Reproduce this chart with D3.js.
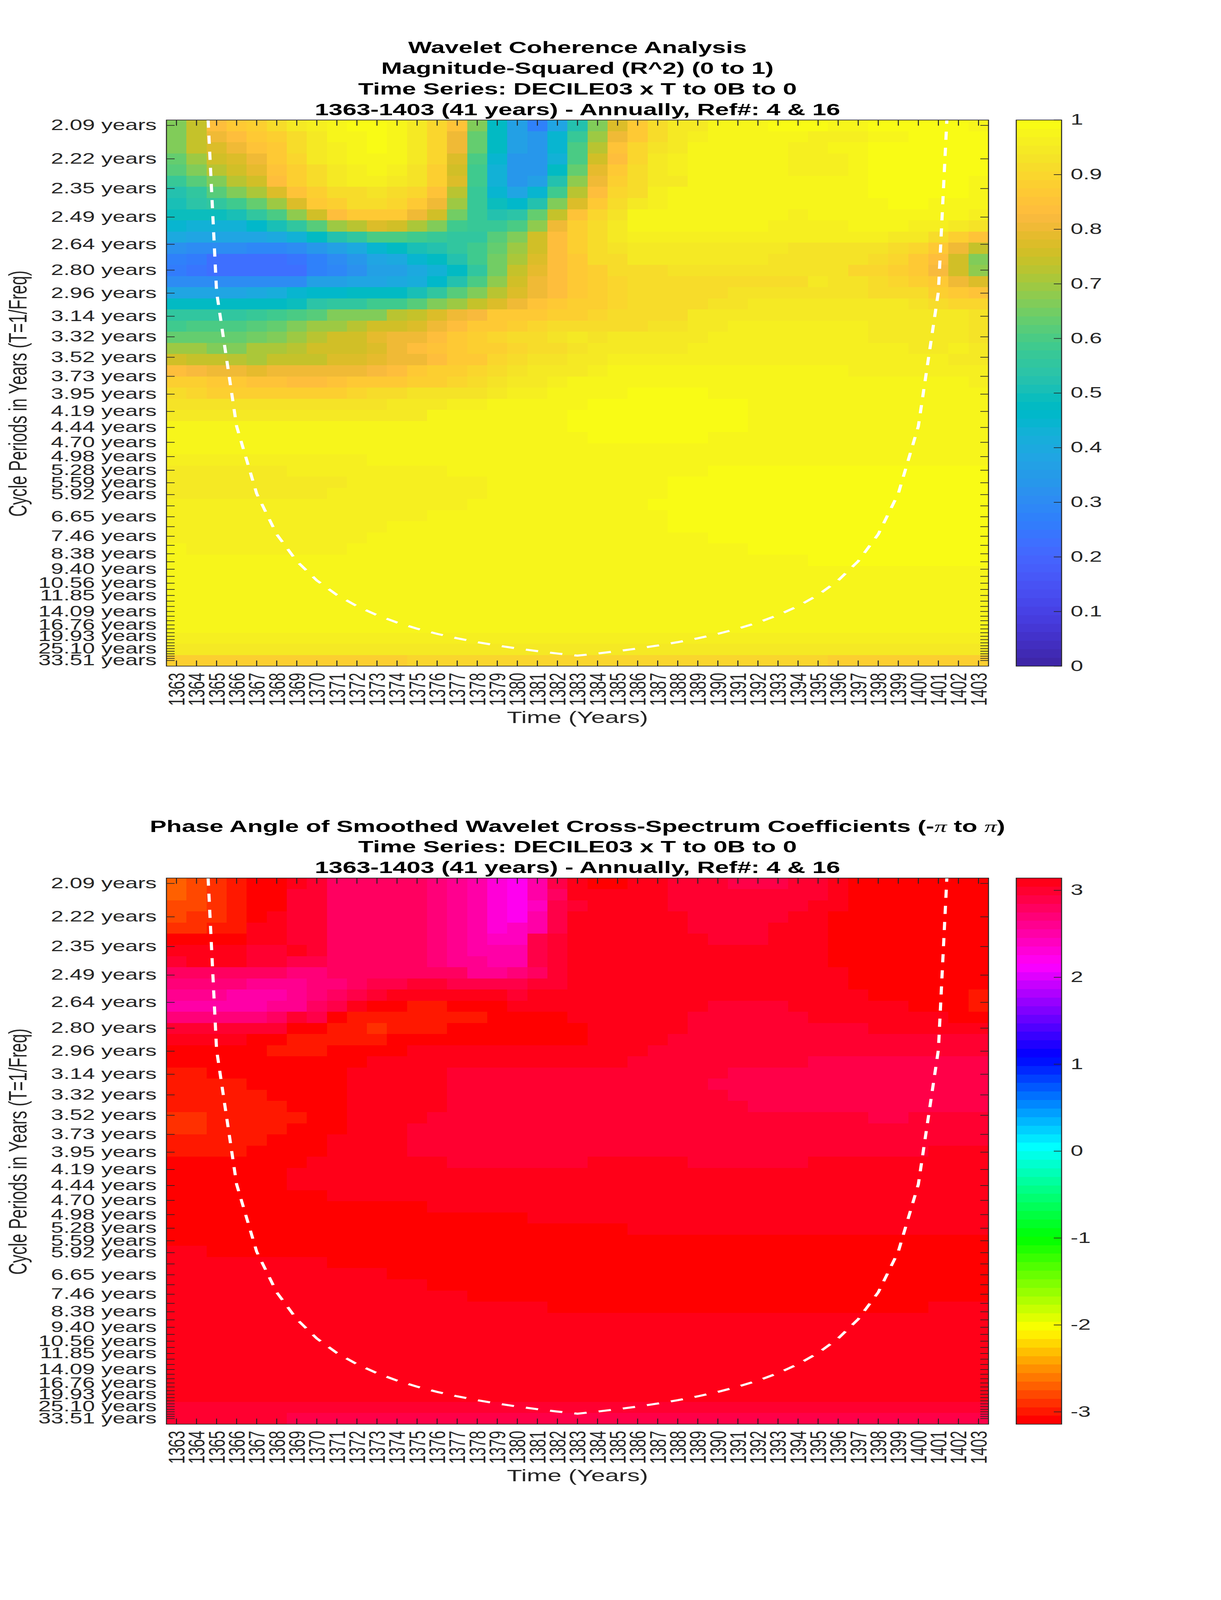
<!DOCTYPE html>
<html><head><meta charset="utf-8">
<script src="https://cdn.jsdelivr.net/npm/d3@7/dist/d3.min.js"></script>
<style>html,body{margin:0;padding:0;background:#fff;width:100%;height:100%;overflow:hidden}#chart{width:100vw;height:100vh}svg{display:block;width:100vw;height:100vh}text{font-family:"Liberation Sans",Arial,sans-serif}</style>
</head><body><div id="chart"></div>
<script>
const years=[1363,1364,1365,1366,1367,1368,1369,1370,1371,1372,1373,1374,1375,1376,1377,1378,1379,1380,1381,1382,1383,1384,1385,1386,1387,1388,1389,1390,1391,1392,1393,1394,1395,1396,1397,1398,1399,1400,1401,1402,1403];
const periodTicks=[2.09,2.22,2.35,2.49,2.64,2.80,2.96,3.14,3.32,3.52,3.73,3.95,4.19,4.44,4.70,4.98,5.28,5.59,5.92,6.27,6.65,7.04,7.46,7.91,8.38,8.88,9.40,9.96,10.56,11.18,11.85,12.56,13.30,14.09,14.93,15.82,16.76,17.75,18.81,19.93,21.11,22.37,23.70,25.10,26.60,28.18,29.85,31.63,33.51];
const labelledPeriods=[2.09,2.22,2.35,2.49,2.64,2.80,2.96,3.14,3.32,3.52,3.73,3.95,4.19,4.44,4.70,4.98,5.28,5.59,5.92,6.65,7.46,8.38,9.40,10.56,11.85,14.09,16.76,19.93,25.10,33.51];
const coiYears=[1364,1365,1366,1367,1368,1369,1370,1371,1372,1373,1374,1375,1376,1377,1378,1379,1380,1381,1382,1383,1384,1385,1386,1387,1388,1389,1390,1391,1392,1393,1394,1395,1396,1397,1398,1399,1400,1401,1402];
const coiPeriods=[1.47,2.95,4.42,5.89,7.37,8.84,10.31,11.79,13.26,14.73,16.21,17.68,19.15,20.63,22.10,23.57,25.05,26.52,28.00,29.47,28.00,26.52,25.05,23.57,22.10,20.63,19.15,17.68,16.21,14.73,13.26,11.79,10.31,8.84,7.37,5.89,4.42,2.95,1.47];
const coherenceTicks=[0,0.1,0.2,0.3,0.4,0.5,0.6,0.7,0.8,0.9,1];
const phaseTicks=[-3,-2,-1,0,1,2,3];
const parula=[[.2422,.1504,.6603],[.2504,.1650,.7076],[.2578,.1818,.7511],[.2647,.1978,.7952],[.2706,.2147,.8364],[.2751,.2342,.8710],[.2783,.2559,.8991],[.2803,.2782,.9221],[.2813,.3006,.9414],[.2810,.3228,.9579],[.2795,.3447,.9717],[.2760,.3667,.9829],[.2699,.3892,.9906],[.2602,.4123,.9952],[.2440,.4358,.9988],[.2206,.4603,.9973],[.1963,.4847,.9892],[.1834,.5074,.9798],[.1786,.5289,.9682],[.1764,.5499,.9520],[.1687,.5703,.9359],[.1540,.5902,.9218],[.1460,.6091,.9079],[.1380,.6276,.8973],[.1248,.6459,.8883],[.1113,.6635,.8763],[.0952,.6798,.8598],[.0689,.6948,.8394],[.0297,.7082,.8163],[.0036,.7197,.7917],[.0067,.7312,.7660],[.0433,.7411,.7394],[.0964,.7500,.7120],[.1408,.7584,.6842],[.1717,.7670,.6554],[.1938,.7758,.6251],[.2161,.7843,.5923],[.2470,.7918,.5567],[.2906,.7973,.5188],[.3406,.8008,.4789],[.3909,.8029,.4354],[.4456,.8024,.3909],[.5044,.7993,.3480],[.5616,.7942,.3045],[.6174,.7876,.2612],[.6720,.7793,.2227],[.7242,.7698,.1910],[.7738,.7598,.1646],[.8203,.7498,.1535],[.8634,.7406,.1596],[.9035,.7330,.1774],[.9393,.7288,.2100],[.9728,.7298,.2394],[.9956,.7434,.2371],[.9970,.7659,.2199],[.9952,.7893,.2028],[.9892,.8136,.1885],[.9786,.8386,.1766],[.9676,.8639,.1643],[.9610,.8890,.1537],[.9597,.9135,.1423],[.9628,.9373,.1265],[.9691,.9606,.1064],[.9769,.9839,.0805]];
const coherence=[
[.67,.74,.84,.86,.89,.91,.94,.96,.98,.99,.99,.97,.95,.90,.85,.67,.48,.36,.28,.38,.52,.67,.77,.86,.91,.94,.95,.97,.98,.98,.99,.99,.99,.98,.98,.99,.99,.99,.99,.99,.98],
[.67,.74,.80,.83,.86,.88,.92,.94,.97,.98,.99,.97,.94,.90,.81,.63,.48,.37,.33,.44,.57,.70,.80,.87,.92,.94,.96,.97,.97,.97,.97,.97,.96,.96,.96,.97,.98,.99,.99,.99,.99],
[.67,.74,.78,.80,.85,.87,.91,.94,.96,.98,.99,.97,.94,.90,.80,.64,.48,.37,.33,.44,.60,.72,.85,.90,.93,.95,.97,.97,.97,.97,.97,.96,.96,.97,.97,.99,.99,.99,.99,.99,.99],
[.64,.70,.75,.78,.81,.86,.90,.94,.96,.98,.98,.97,.94,.90,.78,.60,.45,.33,.34,.43,.60,.75,.84,.90,.94,.96,.97,.97,.97,.97,.97,.96,.96,.96,.97,.99,.99,.99,.99,.99,.99],
[.62,.66,.72,.76,.79,.85,.88,.91,.94,.96,.97,.96,.93,.88,.76,.58,.43,.33,.33,.48,.64,.79,.87,.91,.94,.96,.97,.97,.97,.97,.97,.96,.96,.96,.97,.99,.99,.99,.99,.99,.99],
[.57,.62,.67,.73,.76,.83,.88,.92,.94,.96,.96,.95,.93,.88,.77,.58,.43,.33,.37,.52,.68,.80,.88,.92,.94,.95,.97,.97,.97,.97,.97,.97,.97,.97,.97,.99,.99,.99,.99,.99,.97],
[.53,.56,.61,.66,.71,.77,.85,.88,.91,.92,.93,.92,.90,.85,.72,.57,.44,.38,.44,.59,.73,.84,.90,.92,.96,.97,.97,.97,.97,.97,.97,.97,.97,.97,.97,.99,.99,.99,.99,.99,.97],
[.51,.54,.56,.59,.63,.69,.78,.86,.89,.91,.91,.90,.86,.81,.69,.57,.49,.46,.52,.66,.77,.87,.92,.94,.96,.97,.97,.97,.97,.97,.97,.97,.97,.97,.97,.97,.99,.99,.97,.97,.97],
[.49,.49,.49,.51,.55,.60,.68,.76,.83,.86,.87,.86,.81,.75,.65,.57,.52,.54,.63,.74,.85,.90,.93,.97,.98,.98,.98,.98,.97,.97,.97,.96,.97,.97,.97,.97,.97,.97,.97,.97,.96],
[.45,.43,.43,.43,.46,.50,.55,.62,.70,.73,.77,.76,.71,.66,.59,.57,.57,.60,.68,.80,.88,.91,.94,.97,.98,.98,.98,.98,.97,.97,.96,.96,.96,.96,.97,.97,.97,.96,.96,.95,.93],
[.40,.38,.38,.38,.38,.40,.43,.48,.52,.56,.60,.60,.59,.57,.56,.56,.62,.66,.75,.83,.88,.91,.94,.96,.96,.96,.96,.96,.96,.96,.96,.96,.96,.96,.96,.96,.95,.94,.92,.89,.85],
[.32,.31,.31,.30,.29,.29,.30,.33,.37,.40,.44,.47,.50,.52,.55,.58,.63,.70,.76,.83,.88,.91,.93,.95,.95,.95,.95,.95,.95,.95,.95,.93,.93,.93,.93,.93,.91,.90,.87,.81,.74],
[.27,.25,.23,.22,.22,.23,.24,.27,.31,.33,.38,.40,.44,.48,.52,.58,.65,.71,.77,.83,.87,.91,.92,.94,.94,.94,.94,.94,.94,.94,.93,.93,.93,.93,.93,.91,.90,.87,.83,.75,.67],
[.26,.24,.22,.22,.22,.22,.23,.27,.29,.32,.36,.37,.40,.43,.48,.56,.65,.74,.79,.84,.87,.89,.91,.92,.92,.93,.93,.93,.93,.93,.93,.93,.93,.93,.90,.90,.88,.86,.82,.75,.68],
[.31,.31,.31,.31,.31,.31,.30,.36,.37,.38,.39,.40,.41,.46,.52,.60,.68,.75,.81,.84,.87,.88,.90,.92,.92,.91,.92,.92,.92,.92,.92,.92,.94,.93,.93,.91,.90,.88,.86,.81,.77],
[.38,.38,.38,.39,.40,.41,.44,.46,.46,.47,.48,.48,.50,.56,.61,.67,.72,.77,.80,.84,.87,.88,.90,.91,.91,.92,.92,.92,.93,.93,.93,.93,.93,.93,.93,.92,.92,.92,.88,.86,.85],
[.48,.48,.48,.48,.48,.48,.49,.54,.55,.56,.58,.59,.61,.66,.69,.74,.77,.81,.85,.86,.88,.88,.90,.91,.91,.92,.92,.93,.93,.94,.94,.94,.94,.94,.94,.94,.94,.93,.92,.90,.90],
[.55,.55,.55,.56,.57,.59,.60,.62,.66,.66,.67,.72,.74,.77,.81,.82,.86,.86,.87,.88,.89,.90,.91,.91,.91,.92,.94,.94,.94,.94,.95,.95,.95,.95,.95,.94,.94,.94,.94,.94,.93],
[.59,.60,.60,.60,.62,.63,.66,.69,.70,.72,.75,.76,.77,.81,.83,.86,.87,.88,.90,.91,.92,.92,.92,.92,.93,.93,.94,.95,.96,.96,.96,.96,.96,.96,.96,.95,.95,.95,.95,.95,.93],
[.63,.64,.64,.64,.65,.67,.69,.72,.75,.76,.79,.80,.81,.84,.86,.88,.90,.91,.92,.93,.94,.93,.94,.94,.94,.95,.95,.96,.96,.96,.96,.96,.96,.96,.96,.95,.95,.95,.95,.95,.93],
[.70,.69,.67,.67,.71,.71,.73,.75,.76,.76,.78,.81,.83,.85,.87,.88,.89,.90,.91,.92,.93,.94,.94,.94,.95,.95,.96,.96,.96,.96,.96,.96,.96,.96,.96,.96,.96,.95,.95,.96,.95],
[.76,.74,.74,.73,.71,.74,.74,.74,.77,.77,.79,.80,.81,.83,.87,.87,.90,.92,.93,.93,.94,.94,.96,.96,.96,.96,.96,.96,.96,.96,.96,.96,.96,.96,.96,.96,.96,.96,.96,.95,.95],
[.84,.82,.81,.80,.79,.80,.80,.80,.80,.81,.82,.84,.86,.88,.88,.90,.92,.93,.94,.95,.95,.96,.97,.97,.97,.97,.97,.97,.97,.97,.97,.97,.97,.97,.96,.96,.96,.96,.96,.96,.96],
[.88,.88,.86,.86,.85,.85,.84,.84,.85,.86,.86,.87,.88,.89,.90,.91,.93,.94,.95,.96,.97,.97,.97,.97,.97,.97,.97,.97,.97,.97,.97,.97,.97,.97,.97,.97,.97,.97,.97,.97,.96],
[.92,.90,.89,.89,.89,.89,.89,.89,.89,.90,.91,.92,.93,.93,.93,.93,.95,.96,.96,.97,.97,.97,.97,.99,.99,.99,.99,.97,.97,.97,.97,.97,.97,.97,.97,.97,.97,.97,.97,.97,.97],
[.93,.93,.93,.93,.93,.93,.93,.93,.93,.93,.93,.95,.95,.95,.96,.96,.97,.97,.97,.97,.97,.99,.99,.99,.99,.99,.99,.99,.99,.97,.97,.97,.97,.97,.97,.97,.97,.97,.97,.97,.97],
[.95,.95,.95,.95,.95,.95,.95,.95,.95,.95,.95,.95,.95,.97,.97,.97,.97,.97,.97,.97,.99,.99,.99,.99,.99,.99,.99,.99,.99,.97,.97,.97,.97,.97,.97,.97,.97,.97,.97,.97,.97],
[.97,.97,.97,.97,.97,.97,.97,.97,.97,.97,.97,.97,.97,.97,.97,.97,.97,.97,.97,.97,.99,.99,.99,.99,.99,.99,.99,.99,.99,.97,.97,.97,.97,.97,.97,.97,.97,.97,.97,.97,.97],
[.97,.97,.97,.97,.97,.97,.97,.97,.97,.97,.97,.97,.97,.97,.97,.97,.97,.97,.97,.97,.97,.99,.99,.99,.99,.99,.99,.97,.97,.97,.97,.97,.97,.97,.97,.97,.97,.97,.97,.97,.97],
[.97,.97,.97,.97,.97,.97,.97,.97,.97,.97,.97,.97,.97,.97,.97,.97,.97,.97,.97,.97,.97,.97,.97,.97,.97,.97,.97,.97,.97,.97,.97,.97,.97,.97,.97,.97,.97,.97,.97,.97,.97],
[.96,.96,.96,.96,.96,.96,.96,.96,.96,.96,.97,.97,.97,.97,.97,.97,.97,.97,.97,.97,.97,.97,.97,.97,.97,.97,.97,.97,.97,.97,.97,.97,.97,.97,.97,.97,.97,.97,.97,.97,.97],
[.95,.95,.95,.95,.95,.95,.96,.96,.96,.96,.96,.96,.96,.96,.97,.97,.97,.97,.97,.97,.97,.97,.97,.97,.97,.97,.97,.99,.99,.99,.99,.99,.99,.99,.99,.99,.99,.99,.99,.99,.99],
[.95,.95,.95,.95,.95,.95,.95,.95,.95,.96,.96,.96,.96,.96,.96,.96,.97,.97,.97,.97,.97,.97,.97,.97,.97,.99,.99,.99,.99,.99,.99,.99,.99,.99,.99,.99,.99,.99,.99,.99,.99],
[.95,.95,.95,.95,.95,.95,.95,.95,.96,.96,.96,.96,.96,.96,.96,.96,.97,.97,.97,.97,.97,.97,.97,.97,.97,.99,.99,.99,.99,.99,.99,.99,.99,.99,.99,.99,.99,.99,.99,.99,.99],
[.96,.96,.96,.96,.96,.96,.96,.96,.96,.96,.96,.96,.96,.96,.96,.97,.97,.97,.97,.97,.97,.97,.97,.97,.99,.99,.99,.99,.99,.99,.99,.99,.99,.99,.99,.99,.99,.99,.99,.99,.99],
[.96,.96,.96,.96,.96,.96,.96,.96,.96,.96,.96,.96,.96,.97,.97,.97,.97,.97,.97,.97,.97,.97,.97,.97,.97,.99,.99,.99,.99,.99,.99,.99,.99,.99,.99,.99,.99,.99,.99,.99,.99],
[.96,.96,.96,.96,.96,.96,.96,.96,.96,.96,.96,.97,.97,.97,.97,.97,.97,.97,.97,.97,.97,.97,.97,.97,.97,.99,.99,.99,.99,.99,.99,.99,.99,.99,.99,.99,.99,.99,.99,.99,.99],
[.96,.96,.96,.96,.96,.96,.96,.96,.96,.96,.97,.97,.97,.97,.97,.97,.97,.97,.97,.97,.97,.97,.97,.97,.97,.97,.97,.99,.99,.99,.99,.99,.99,.99,.99,.99,.99,.99,.99,.99,.99],
[.97,.96,.96,.96,.96,.96,.96,.96,.96,.97,.97,.97,.97,.97,.97,.97,.97,.97,.97,.97,.97,.97,.97,.97,.97,.97,.97,.97,.97,.99,.99,.99,.99,.99,.99,.99,.99,.99,.99,.99,.99],
[.97,.97,.97,.97,.97,.97,.97,.97,.97,.97,.97,.97,.97,.97,.97,.97,.97,.97,.97,.97,.97,.97,.97,.97,.97,.97,.97,.97,.97,.97,.97,.97,.99,.99,.99,.99,.99,.99,.99,.99,.99],
[.97,.97,.97,.97,.97,.97,.97,.97,.97,.97,.97,.97,.97,.97,.97,.97,.97,.97,.97,.97,.97,.97,.97,.97,.97,.97,.97,.97,.97,.97,.97,.97,.97,.97,.97,.97,.97,.97,.97,.97,.97],
[.97,.97,.97,.97,.97,.97,.97,.97,.97,.97,.97,.97,.97,.97,.97,.97,.97,.97,.97,.97,.97,.97,.97,.97,.97,.97,.97,.97,.97,.97,.97,.97,.97,.97,.97,.97,.97,.97,.97,.97,.97],
[.97,.97,.97,.97,.97,.97,.97,.97,.97,.97,.97,.97,.97,.97,.97,.97,.97,.97,.97,.97,.97,.97,.97,.97,.97,.97,.97,.97,.97,.97,.97,.97,.97,.97,.97,.97,.97,.97,.97,.97,.97],
[.97,.97,.97,.97,.97,.97,.97,.97,.97,.97,.97,.97,.97,.97,.97,.97,.97,.97,.97,.97,.97,.97,.97,.97,.97,.97,.97,.97,.97,.97,.97,.97,.97,.97,.97,.97,.97,.97,.97,.97,.97],
[.97,.97,.97,.97,.97,.97,.97,.97,.97,.97,.97,.97,.97,.97,.97,.97,.97,.97,.97,.97,.97,.97,.97,.97,.97,.97,.97,.97,.97,.97,.97,.97,.97,.97,.97,.97,.97,.97,.97,.97,.97],
[.97,.97,.97,.97,.97,.97,.97,.97,.97,.97,.97,.97,.97,.97,.97,.97,.97,.97,.97,.97,.97,.97,.97,.97,.97,.97,.97,.97,.97,.97,.97,.97,.97,.97,.97,.97,.97,.97,.97,.97,.97],
[.96,.96,.96,.96,.96,.96,.96,.96,.96,.96,.96,.96,.96,.96,.96,.96,.96,.96,.96,.96,.96,.96,.96,.96,.96,.96,.96,.96,.96,.96,.96,.96,.96,.96,.96,.96,.96,.96,.96,.96,.96],
[.94,.94,.94,.94,.94,.94,.94,.94,.94,.94,.95,.95,.95,.95,.95,.95,.95,.95,.95,.95,.95,.95,.95,.95,.95,.95,.95,.95,.95,.95,.95,.95,.95,.95,.94,.94,.94,.94,.94,.94,.94],
[.89,.89,.89,.89,.89,.89,.89,.89,.89,.89,.89,.89,.90,.90,.90,.90,.90,.90,.90,.90,.90,.90,.90,.90,.90,.90,.90,.90,.90,.90,.90,.90,.90,.89,.89,.89,.89,.89,.89,.89,.89]
];
const phase=[
[-2.70,-2.80,-2.90,-2.99,-3.09,-3.09,3.09,2.99,2.80,2.80,2.80,2.80,2.80,2.70,2.60,2.50,2.31,2.21,2.50,2.90,3.09,-3.09,-3.09,3.09,3.09,2.99,2.99,2.99,2.90,2.90,2.90,2.99,2.99,3.09,-3.09,-3.09,-3.09,-3.09,-3.09,-3.09,-3.09],
[-2.70,-2.80,-2.90,-2.99,-3.09,-3.09,2.99,2.99,2.80,2.80,2.80,2.80,2.80,2.70,2.60,2.50,2.31,2.21,2.50,2.80,3.09,3.09,3.09,3.09,3.09,2.99,2.99,2.99,2.99,2.99,2.99,2.99,2.99,3.09,-3.09,-3.09,-3.09,-3.09,-3.09,-3.09,-3.09],
[-2.80,-2.80,-2.90,-2.99,-3.09,-3.09,2.99,2.99,2.80,2.80,2.80,2.80,2.80,2.70,2.60,2.50,2.31,2.21,2.41,2.90,2.99,3.09,3.09,3.09,3.09,2.99,2.99,2.99,2.99,2.99,2.99,2.99,3.09,3.09,-3.09,-3.09,-3.09,-3.09,-3.09,-3.09,-3.09],
[-2.80,-2.90,-2.90,-2.99,-3.09,3.09,2.99,2.99,2.80,2.80,2.80,2.80,2.80,2.70,2.60,2.50,2.31,2.21,2.50,2.90,3.09,3.09,3.09,3.09,3.09,3.09,2.99,2.99,2.99,2.99,2.99,3.09,3.09,-3.09,-3.09,-3.09,-3.09,-3.09,-3.09,-3.09,-3.09],
[-2.90,-2.90,-2.99,-2.99,3.09,3.09,2.99,2.99,2.80,2.80,2.80,2.80,2.80,2.70,2.60,2.50,2.31,2.41,2.50,2.90,3.09,3.09,3.09,3.09,3.09,3.09,2.99,2.99,2.99,2.99,3.09,3.09,3.09,-3.09,-3.09,-3.09,-3.09,-3.09,-3.09,-3.09,-3.09],
[-3.09,-3.09,-3.09,-3.09,3.09,3.09,2.99,2.99,2.80,2.80,2.80,2.80,2.80,2.70,2.60,2.50,2.41,2.41,2.90,2.99,3.09,3.09,3.09,3.09,3.09,3.09,3.09,2.99,2.99,2.99,3.09,3.09,3.09,-3.09,-3.09,-3.09,-3.09,-3.09,-3.09,-3.09,-3.09],
[3.09,3.09,3.09,3.09,2.99,2.99,3.09,2.99,2.80,2.80,2.80,2.80,2.80,2.70,2.60,2.50,2.50,2.50,2.90,2.99,3.09,3.09,3.09,3.09,3.09,3.09,3.09,3.09,3.09,3.09,3.09,3.09,3.09,-3.09,-3.09,-3.09,-3.09,-3.09,-3.09,-3.09,-3.09],
[2.99,3.09,3.09,3.09,2.99,2.99,2.90,2.90,2.80,2.80,2.80,2.80,2.80,2.70,2.60,2.60,2.50,2.50,2.90,2.99,3.09,3.09,3.09,3.09,3.09,3.09,3.09,3.09,3.09,3.09,3.09,3.09,3.09,-3.09,-3.09,-3.09,-3.09,-3.09,-3.09,-3.09,-3.09],
[2.80,2.80,2.80,2.80,2.80,2.80,2.70,2.70,2.80,2.80,2.80,2.80,2.80,2.80,2.80,2.60,2.60,2.70,2.80,2.99,3.09,3.09,3.09,3.09,3.09,3.09,3.09,3.09,3.09,3.09,3.09,3.09,3.09,3.09,-3.09,-3.09,-3.09,-3.09,-3.09,-3.09,-3.09],
[2.70,2.70,2.70,2.70,2.60,2.60,2.60,2.70,2.70,2.80,2.90,2.90,2.99,2.99,2.90,2.90,2.90,2.90,2.99,2.99,3.09,3.09,3.09,3.09,3.09,3.09,3.09,3.09,3.09,3.09,3.09,3.09,3.09,3.09,-3.09,-3.09,-3.09,-3.09,-3.09,-3.09,-3.09],
[2.60,2.60,2.60,2.50,2.50,2.50,2.60,2.70,2.80,2.90,2.99,3.09,3.09,3.09,3.09,3.09,3.09,2.99,3.09,3.09,3.09,3.09,3.09,3.09,3.09,3.09,3.09,3.09,3.09,3.09,3.09,3.09,3.09,3.09,3.09,-3.09,-3.09,-3.09,-3.09,-3.09,-2.99],
[2.50,2.50,2.50,2.50,2.50,2.60,2.60,2.80,2.90,3.09,-3.09,-3.09,-2.99,-2.99,-3.09,-3.09,-3.09,3.09,3.09,3.09,3.09,3.09,3.09,3.09,3.09,3.09,3.09,2.99,2.99,2.99,2.99,3.09,3.09,3.09,3.09,3.09,3.09,-3.09,-3.09,-3.09,-2.99],
[2.70,2.70,2.70,2.70,2.70,2.80,2.99,2.90,-3.09,-2.99,-2.99,-2.99,-2.99,-2.99,-2.99,-2.99,-3.09,-3.09,-3.09,-3.09,3.09,3.09,3.09,3.09,3.09,3.09,2.99,2.99,2.99,2.99,2.99,2.99,3.09,3.09,3.09,3.09,3.09,3.09,3.09,-3.09,-3.09],
[2.99,2.99,2.99,2.99,2.99,2.99,-3.09,-3.09,-2.99,-2.99,-2.90,-2.99,-2.99,-2.99,-3.09,-3.09,-3.09,-3.09,-3.09,-3.09,-3.09,3.09,3.09,3.09,3.09,3.09,2.99,2.99,2.99,2.99,2.99,2.99,2.99,2.99,2.99,3.09,3.09,3.09,3.09,3.09,3.09],
[3.09,3.09,3.09,3.09,-3.09,-3.09,-2.99,-2.99,-2.99,-2.99,-2.99,-3.09,-3.09,-3.09,-3.09,-3.09,-3.09,-3.09,-3.09,-3.09,-3.09,3.09,3.09,3.09,3.09,2.99,2.99,2.99,2.99,2.99,2.99,2.99,2.99,2.99,2.99,2.99,2.99,2.99,2.99,2.99,2.99],
[-3.09,-3.09,-3.09,-3.09,-3.09,-2.99,-2.99,-2.99,-3.09,-3.09,-3.09,-3.09,3.09,3.09,3.09,3.09,3.09,3.09,3.09,3.09,3.09,3.09,3.09,3.09,2.99,2.99,2.99,2.99,2.99,2.99,2.99,2.99,2.99,2.99,2.99,2.99,2.99,2.99,2.99,2.99,2.99],
[-3.09,-3.09,-3.09,-3.09,-3.09,-3.09,-3.09,-3.09,-3.09,-3.09,3.09,3.09,3.09,3.09,3.09,3.09,3.09,3.09,3.09,3.09,3.09,3.09,3.09,2.99,2.99,2.99,2.99,2.99,2.99,2.99,2.99,2.99,2.90,2.90,2.90,2.90,2.90,2.90,2.90,2.90,2.90],
[-2.99,-2.99,-3.09,-3.09,-3.09,-3.09,-3.09,-3.09,-3.09,3.09,3.09,3.09,3.09,3.09,2.99,2.99,2.99,2.99,2.99,2.99,2.99,2.99,2.99,2.99,2.99,2.99,2.99,2.99,2.90,2.90,2.90,2.90,2.90,2.90,2.90,2.90,2.90,2.90,2.90,2.90,2.90],
[-2.99,-2.99,-2.99,-2.99,-3.09,-3.09,-3.09,-3.09,-3.09,3.09,3.09,3.09,3.09,3.09,2.99,2.99,2.99,2.99,2.99,2.99,2.99,2.99,2.99,2.99,2.99,2.99,2.99,2.90,2.90,2.90,2.90,2.90,2.90,2.90,2.90,2.90,2.90,2.90,2.90,2.90,2.90],
[-2.99,-2.99,-2.99,-2.99,-2.99,-3.09,-3.09,-3.09,-3.09,3.09,3.09,3.09,3.09,3.09,2.99,2.99,2.99,2.99,2.99,2.99,2.99,2.99,2.99,2.99,2.99,2.99,2.99,2.99,2.90,2.90,2.90,2.90,2.90,2.90,2.90,2.90,2.90,2.90,2.90,2.90,2.90],
[-2.99,-2.99,-2.99,-2.99,-2.99,-2.99,-3.09,-3.09,-3.09,3.09,3.09,3.09,3.09,3.09,2.99,2.99,2.99,2.99,2.99,2.99,2.99,2.99,2.99,2.99,2.99,2.99,2.99,2.99,2.99,2.90,2.90,2.90,2.90,2.90,2.90,2.90,2.90,2.90,2.90,2.90,2.90],
[-2.90,-2.90,-2.99,-2.99,-2.99,-2.99,-2.99,-3.09,-3.09,3.09,3.09,3.09,3.09,2.99,2.99,2.99,2.99,2.99,2.99,2.99,2.99,2.99,2.99,2.99,2.99,2.99,2.99,2.99,2.99,2.99,2.99,2.99,2.99,2.99,2.99,2.90,2.90,2.99,2.99,2.99,2.99],
[-2.90,-2.90,-2.99,-2.99,-2.99,-2.99,-3.09,-3.09,-3.09,3.09,3.09,3.09,2.99,2.99,2.99,2.99,2.99,2.99,2.99,2.99,2.99,2.99,2.99,2.99,2.99,2.99,2.99,2.99,2.99,2.99,2.99,2.99,2.99,2.99,2.99,2.99,2.99,2.99,2.99,2.99,2.99],
[-2.99,-2.99,-2.99,-2.99,-2.99,-3.09,-3.09,-3.09,3.09,3.09,3.09,3.09,2.99,2.99,2.99,2.99,2.99,2.99,2.99,2.99,2.99,2.99,2.99,2.99,2.99,2.99,2.99,2.99,2.99,2.99,2.99,2.99,2.99,2.99,2.99,2.99,2.99,2.99,2.99,2.99,2.99],
[-2.99,-2.99,-2.99,-2.99,-3.09,-3.09,-3.09,-3.09,3.09,3.09,3.09,3.09,2.99,2.99,2.99,2.99,2.99,2.99,2.99,2.99,2.99,2.99,2.99,2.99,2.99,2.99,2.99,2.99,2.99,2.99,2.99,2.99,2.99,2.99,2.99,2.99,2.99,2.99,3.09,3.09,3.09],
[-3.09,-3.09,-3.09,-3.09,-3.09,-3.09,-3.09,3.09,3.09,3.09,3.09,3.09,3.09,3.09,2.99,2.99,2.99,2.99,2.99,2.99,2.99,3.09,3.09,3.09,3.09,3.09,2.99,2.99,2.99,2.99,2.99,2.99,3.09,3.09,3.09,3.09,3.09,3.09,3.09,3.09,3.09],
[-3.09,-3.09,-3.09,-3.09,-3.09,-3.09,3.09,3.09,3.09,3.09,3.09,3.09,3.09,3.09,3.09,3.09,3.09,3.09,3.09,3.09,3.09,3.09,3.09,3.09,3.09,3.09,3.09,3.09,3.09,3.09,3.09,3.09,3.09,3.09,3.09,3.09,3.09,3.09,3.09,3.09,3.09],
[-3.09,-3.09,-3.09,-3.09,-3.09,-3.09,3.09,3.09,3.09,3.09,3.09,3.09,3.09,3.09,3.09,3.09,3.09,3.09,3.09,3.09,3.09,3.09,3.09,3.09,3.09,3.09,3.09,3.09,3.09,3.09,3.09,3.09,3.09,3.09,3.09,3.09,3.09,3.09,3.09,3.09,3.09],
[-3.09,-3.09,-3.09,-3.09,-3.09,-3.09,-3.09,-3.09,3.09,3.09,3.09,3.09,3.09,3.09,3.09,3.09,3.09,3.09,3.09,3.09,3.09,3.09,3.09,3.09,3.09,3.09,3.09,3.09,3.09,3.09,3.09,3.09,3.09,3.09,3.09,3.09,3.09,3.09,3.09,3.09,3.09],
[-3.09,-3.09,-3.09,-3.09,-3.09,-3.09,-3.09,-3.09,-3.09,-3.09,-3.09,-3.09,-3.09,3.09,3.09,3.09,3.09,3.09,3.09,3.09,3.09,3.09,3.09,3.09,3.09,3.09,3.09,3.09,3.09,3.09,3.09,3.09,3.09,3.09,3.09,3.09,3.09,3.09,3.09,3.09,3.09],
[-3.09,-3.09,-3.09,-3.09,-3.09,-3.09,-3.09,-3.09,-3.09,-3.09,-3.09,-3.09,-3.09,-3.09,-3.09,-3.09,-3.09,-3.09,3.09,3.09,3.09,3.09,3.09,3.09,3.09,3.09,3.09,3.09,3.09,3.09,3.09,3.09,3.09,3.09,3.09,3.09,3.09,3.09,3.09,3.09,3.09],
[-3.09,-3.09,-3.09,-3.09,-3.09,-3.09,-3.09,-3.09,-3.09,-3.09,-3.09,-3.09,-3.09,-3.09,-3.09,-3.09,-3.09,-3.09,-3.09,-3.09,-3.09,-3.09,-3.09,3.09,3.09,3.09,3.09,3.09,3.09,3.09,3.09,3.09,3.09,3.09,3.09,3.09,3.09,3.09,3.09,3.09,3.09],
[-3.09,-3.09,-3.09,-3.09,-3.09,-3.09,-3.09,-3.09,-3.09,-3.09,-3.09,-3.09,-3.09,-3.09,-3.09,-3.09,-3.09,-3.09,-3.09,-3.09,-3.09,-3.09,-3.09,-3.09,-3.09,-3.09,-3.09,-3.09,-3.09,-3.09,-3.09,-3.09,-3.09,-3.09,-3.09,-3.09,-3.09,-3.09,-3.09,-3.09,-3.09],
[3.09,3.09,-3.09,-3.09,-3.09,-3.09,-3.09,-3.09,-3.09,-3.09,-3.09,-3.09,-3.09,-3.09,-3.09,-3.09,-3.09,-3.09,-3.09,-3.09,-3.09,-3.09,-3.09,-3.09,-3.09,-3.09,-3.09,-3.09,-3.09,-3.09,-3.09,-3.09,-3.09,-3.09,-3.09,-3.09,-3.09,-3.09,-3.09,-3.09,-3.09],
[3.09,3.09,3.09,3.09,3.09,3.09,3.09,3.09,-3.09,-3.09,-3.09,-3.09,-3.09,-3.09,-3.09,-3.09,-3.09,-3.09,-3.09,-3.09,-3.09,-3.09,-3.09,-3.09,-3.09,-3.09,-3.09,-3.09,-3.09,-3.09,-3.09,-3.09,-3.09,-3.09,-3.09,-3.09,-3.09,-3.09,-3.09,-3.09,-3.09],
[3.09,3.09,3.09,3.09,3.09,3.09,3.09,3.09,3.09,3.09,3.09,-3.09,-3.09,-3.09,-3.09,-3.09,-3.09,-3.09,-3.09,-3.09,-3.09,-3.09,-3.09,-3.09,-3.09,-3.09,-3.09,-3.09,-3.09,-3.09,-3.09,-3.09,-3.09,-3.09,-3.09,-3.09,-3.09,-3.09,-3.09,-3.09,-3.09],
[3.09,3.09,3.09,3.09,3.09,3.09,3.09,3.09,3.09,3.09,3.09,3.09,3.09,-3.09,-3.09,-3.09,-3.09,-3.09,-3.09,-3.09,-3.09,-3.09,-3.09,-3.09,-3.09,-3.09,-3.09,-3.09,-3.09,-3.09,-3.09,-3.09,-3.09,-3.09,-3.09,-3.09,-3.09,-3.09,-3.09,-3.09,-3.09],
[3.09,3.09,3.09,3.09,3.09,3.09,3.09,3.09,3.09,3.09,3.09,3.09,3.09,3.09,3.09,-3.09,-3.09,-3.09,-3.09,-3.09,-3.09,-3.09,-3.09,-3.09,-3.09,-3.09,-3.09,-3.09,-3.09,-3.09,-3.09,-3.09,-3.09,-3.09,-3.09,-3.09,-3.09,-3.09,-3.09,-3.09,-3.09],
[3.09,3.09,3.09,3.09,3.09,3.09,3.09,3.09,3.09,3.09,3.09,3.09,3.09,3.09,3.09,3.09,3.09,3.09,3.09,-3.09,-3.09,-3.09,-3.09,-3.09,-3.09,-3.09,-3.09,-3.09,-3.09,-3.09,-3.09,-3.09,-3.09,-3.09,-3.09,-3.09,-3.09,-3.09,3.09,3.09,3.09],
[3.09,3.09,3.09,3.09,3.09,3.09,3.09,3.09,3.09,3.09,3.09,3.09,3.09,3.09,3.09,3.09,3.09,3.09,3.09,3.09,3.09,3.09,3.09,3.09,3.09,3.09,3.09,3.09,3.09,3.09,3.09,3.09,3.09,3.09,3.09,3.09,3.09,3.09,3.09,3.09,3.09],
[3.09,3.09,3.09,3.09,3.09,3.09,3.09,3.09,3.09,3.09,3.09,3.09,3.09,3.09,3.09,3.09,3.09,3.09,3.09,3.09,3.09,3.09,3.09,3.09,3.09,3.09,3.09,3.09,3.09,3.09,3.09,3.09,3.09,3.09,3.09,3.09,3.09,3.09,3.09,3.09,3.09],
[3.09,3.09,3.09,3.09,3.09,3.09,3.09,3.09,3.09,3.09,3.09,3.09,3.09,3.09,3.09,3.09,3.09,3.09,3.09,3.09,3.09,3.09,3.09,3.09,3.09,3.09,3.09,3.09,3.09,3.09,3.09,3.09,3.09,3.09,3.09,3.09,3.09,3.09,3.09,3.09,3.09],
[3.09,3.09,3.09,3.09,3.09,3.09,3.09,3.09,3.09,3.09,3.09,3.09,3.09,3.09,3.09,3.09,3.09,3.09,3.09,3.09,3.09,3.09,3.09,3.09,3.09,3.09,3.09,3.09,3.09,3.09,3.09,3.09,3.09,3.09,3.09,3.09,3.09,3.09,3.09,3.09,3.09],
[3.09,3.09,3.09,3.09,3.09,3.09,3.09,3.09,3.09,3.09,3.09,3.09,3.09,3.09,3.09,3.09,3.09,3.09,3.09,3.09,3.09,3.09,3.09,3.09,3.09,3.09,3.09,3.09,3.09,3.09,3.09,3.09,3.09,3.09,3.09,3.09,3.09,3.09,3.09,3.09,3.09],
[3.09,3.09,3.09,3.09,3.09,3.09,3.09,3.09,3.09,3.09,3.09,3.09,3.09,3.09,3.09,3.09,3.09,3.09,3.09,3.09,3.09,3.09,3.09,3.09,3.09,3.09,3.09,3.09,3.09,3.09,3.09,3.09,3.09,3.09,3.09,3.09,3.09,3.09,3.09,3.09,3.09],
[3.09,3.09,3.09,3.09,3.09,3.09,3.09,3.09,3.09,3.09,3.09,3.09,3.09,3.09,3.09,3.09,3.09,3.09,3.09,3.09,3.09,3.09,3.09,3.09,3.09,3.09,3.09,3.09,3.09,3.09,3.09,3.09,3.09,3.09,3.09,3.09,3.09,3.09,3.09,3.09,3.09],
[3.09,3.09,3.09,3.09,3.09,3.09,3.09,3.09,3.09,3.09,3.09,3.09,3.09,3.09,3.09,3.09,3.09,3.09,3.09,3.09,3.09,3.09,3.09,3.09,3.09,3.09,3.09,3.09,3.09,3.09,3.09,3.09,3.09,3.09,3.09,3.09,3.09,3.09,3.09,3.09,3.09],
[2.99,2.99,2.99,2.99,2.99,2.99,2.99,2.99,2.99,2.99,2.99,2.99,2.99,2.99,2.99,2.99,2.99,2.99,2.99,2.99,2.99,2.99,2.99,2.99,2.99,2.99,2.99,2.99,2.99,2.99,2.99,2.99,2.99,2.99,2.99,2.99,2.99,2.99,2.99,2.99,2.99],
[2.99,2.99,2.99,2.99,2.99,2.99,2.90,2.90,2.90,2.90,2.90,2.90,2.90,2.90,2.90,2.90,2.90,2.90,2.90,2.90,2.90,2.90,2.90,2.90,2.90,2.90,2.90,2.90,2.90,2.90,2.90,2.90,2.90,2.90,2.90,2.90,2.90,2.90,2.90,2.90,2.90]
];

const W=3125,H=6252,L=426,R=2530,PH=2134,CL=2601,CR=2717,INK="#262626";
const svg=d3.select("#chart").append("svg").attr("viewBox",[0,0,W,H]).attr("preserveAspectRatio","none");
svg.append("rect").attr("width",W).attr("height",H).attr("fill","#fff");
const parulaHex=parula.map(c=>d3.rgb(c[0]*255,c[1]*255,c[2]*255).formatHex());
const hsvHex=d3.range(64).map(i=>{const h=i/64*6,f=h-Math.floor(h),k=Math.floor(h)%6;
  const r=[1,1-f,0,0,f,1][k],g=[f,1,1,1-f,0,0][k],b=[0,0,f,1,1,1-f][k];return d3.rgb(r*255,g*255,b*255).formatHex();});

function styleAxis(g,fs){g.attr("font-family",null).attr("font-size",null);g.select(".domain").remove();
  g.selectAll("line").attr("stroke",INK).attr("stroke-width",2.6);
  g.selectAll("text").attr("fill",INK).style("font-size",fs+"px");}

function panel(id,top,titles,baselines,matrix,colors,cDomain,cTicks,cFmt){
  const bottom=top+PH,g=svg.append("g").attr("id",id);
  const x=d3.scaleBand().domain(years).range([L,R]);
  const rows=d3.scaleBand().domain(d3.range(periodTicks.length)).range([top,bottom]);
  const y=d3.scaleLinear().domain([1/periodTicks[0],1/periodTicks[periodTicks.length-1]]).range([top+21,top+2112]);
  const color=d3.scaleQuantize().domain(cDomain).range(colors);
  g.append("g").attr("shape-rendering","crispEdges").selectAll("g").data(matrix).join("g").each(function(row,r){
    d3.select(this).selectAll("rect").data(row).join("rect")
      .attr("x",(d,c)=>x(years[c])).attr("y",rows(r)).attr("width",x.bandwidth()+.6).attr("height",rows.bandwidth()+.6)
      .attr("fill",d=>color(d));
  });
  const clip=id+"-clip";
  g.append("clipPath").attr("id",clip).append("rect").attr("x",L).attr("y",top).attr("width",R-L).attr("height",PH);
  const line=d3.line().x((d,i)=>x(coiYears[i])+x.bandwidth()/2).y(d=>y(1/d));
  g.append("path").datum(coiPeriods).attr("clip-path",`url(#${clip})`).attr("d",line).attr("fill","none")
    .attr("stroke","#fff").attr("stroke-width",8).attr("stroke-dasharray","32 31").attr("stroke-dashoffset",27);
  const freqTicks=periodTicks.map(p=>1/p);
  g.append("g").attr("transform",`translate(${L},0)`)
    .call(d3.axisLeft(y).tickValues(freqTicks).tickSize(-21).tickPadding(25).offset(0)
      .tickFormat((d,i)=>labelledPeriods.includes(periodTicks[i])?periodTicks[i].toFixed(2)+" years":""))
    .call(a=>styleAxis(a,58));
  g.append("g").attr("transform",`translate(${R},0)`)
    .call(d3.axisRight(y).tickValues(freqTicks).tickSize(-21).offset(0).tickFormat(""))
    .call(a=>styleAxis(a,58));
  g.append("g").attr("transform",`translate(0,${bottom})`)
    .call(d3.axisBottom(x).tickSize(-22).offset(0))
    .call(a=>styleAxis(a,58))
    .call(a=>a.selectAll("text").attr("transform","rotate(-90)").attr("text-anchor","end").attr("x",-26).attr("y",0).attr("dy",".35em"));
  g.append("g").attr("transform",`translate(0,${top})`)
    .call(d3.axisTop(x).tickSize(-22).offset(0).tickFormat(""))
    .call(a=>styleAxis(a,58));
  g.append("rect").attr("x",L).attr("y",top).attr("width",R-L).attr("height",PH).attr("fill","none").attr("stroke",INK).attr("stroke-width",2.6);
  g.append("text").attr("x",1478).attr("y",top+2357).attr("text-anchor","middle").attr("fill",INK).style("font-size","64px").text("Time (Years)");
  g.append("text").attr("transform",`translate(68,${top+1069}) rotate(-90)`).attr("text-anchor","middle").attr("fill",INK).style("font-size","64px").text("Cycle Periods in Years (T=1/Freq)");
  titles.forEach((t,i)=>{
    const txt=g.append("text").attr("x",1478).attr("y",baselines[i]).attr("text-anchor","middle").attr("fill","#000").style("font-size","64px").style("font-weight","700");
    t.split("π").forEach((part,k)=>{
      if(k>0) txt.append("tspan").style("font-family","'Liberation Serif',serif").style("font-style","italic").style("font-weight","400").text("π");
      txt.append("tspan").text(part);
    });
  });
  const c=d3.scaleLinear().domain(cDomain).range([bottom,top]);
  const step=(cDomain[1]-cDomain[0])/colors.length;
  g.append("g").attr("shape-rendering","crispEdges").selectAll("rect").data(colors).join("rect")
    .attr("x",CL).attr("width",CR-CL).attr("y",(d,i)=>c(cDomain[0]+(i+1)*step)).attr("height",PH/colors.length+.6).attr("fill",d=>d);
  g.append("rect").attr("x",CL).attr("y",top).attr("width",CR-CL).attr("height",PH).attr("fill","none").attr("stroke",INK).attr("stroke-width",2.6);
  g.append("g").attr("transform",`translate(${CR},0)`)
    .call(d3.axisRight(c).tickValues(cTicks).tickSize(-20).tickPadding(23).offset(0).tickFormat(cFmt))
    .call(a=>styleAxis(a,58));
}
panel("coherence",469,
  ["Wavelet Coherence Analysis","Magnitude-Squared (R^2) (0 to 1)","Time Series: DECILE03 x T to 0B to 0","1363-1403 (41 years) - Annually, Ref#: 4 & 16"],
  [208,288,369,450],coherence,parulaHex,[0,1],coherenceTicks,d=>String(d));
panel("phase",3431,
  ["Phase Angle of Smoothed Wavelet Cross-Spectrum Coefficients (-π to π)","Time Series: DECILE03 x T to 0B to 0","1363-1403 (41 years) - Annually, Ref#: 4 & 16"],
  [3251,3331,3412],phase,hsvHex,[-Math.PI,Math.PI],phaseTicks,d=>String(d));
</script></body></html>
